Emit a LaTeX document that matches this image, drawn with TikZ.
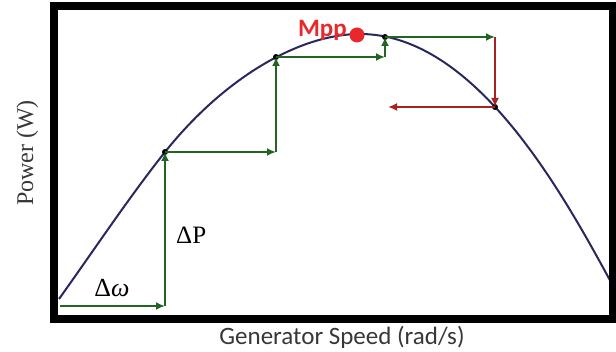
\documentclass[tikz,border=0pt]{standalone}
\usepackage{fontspec}
\setmainfont{Liberation Serif}
\newfontfamily\calfont{Carlito}
\usetikzlibrary{arrows.meta}
\definecolor{curveblue}{RGB}{40,40,95}
\definecolor{stepgreen}{RGB}{35,100,35}
\definecolor{stepred}{RGB}{165,35,35}
\definecolor{mppred}{RGB}{232,40,45}
\definecolor{labelgray}{RGB}{55,55,55}
\begin{document}
\begin{tikzpicture}[x=1pt,y=-1pt,
        upstep/.style={stepgreen,line width=2.3pt,-{Latex[length=9pt,width=8pt]}},
        downstep/.style={stepred,line width=2.3pt,-{Latex[length=9pt,width=8pt]}},
        dot/.style={circle,fill=black,inner sep=0pt,minimum size=6pt}]
            \useasboundingbox (0,0) rectangle (616,352);

            % power curve
            \draw[curveblue,line width=2pt] (59,299) .. controls (94,250) and (130,196) .. (165,152)
                .. controls (225,77) and (300,34) .. (360,34)
                .. controls (475,34) and (562,192) .. (612,284);

            % frame
            \draw[black,line width=8pt] (54,6.5) rectangle (613,319);

            \coordinate (w0) at (60,306);
            \node[dot] (p1) at (165,152) {};
            \node[dot] (p2) at (276,57) {};
            \node[dot] (p3) at (385,37) {};
            \node[dot] (p4) at (495,107) {};
            \coordinate (c1) at (165,306);
            \coordinate (c2) at (276,152);
            \coordinate (c3) at (385,57);
            \coordinate (c4) at (495,37);
            \coordinate (back) at (388,107);

            \draw[upstep] (w0) -- (c1);
            \draw[upstep] (c1) -- (p1.center);
            \draw[upstep] (p1.center) -- (c2);
            \draw[upstep] (c2) -- (p2.center);
            \draw[upstep] (p2.center) -- (c3);
            \draw[upstep] (c3) -- (p3.center);
            \draw[upstep] (p3.center) -- (c4);
            \draw[downstep] (c4) -- (p4.center);
            \draw[downstep] (p4.center) -- (back);

            \node[circle,fill=mppred,inner sep=0pt,minimum size=15pt] (mpp) at (357,35) {};
            \node[anchor=base east,inner sep=0pt,text=mppred,font=\calfont\bfseries\fontsize{25}{25}\selectfont] (mpplabel) at (347,37) {Mpp};

            \node[anchor=base,inner sep=0pt,font=\fontsize{26}{26}\selectfont] (dw) at (112,297) {Δ\textit{ω}};
            \node[anchor=base west,inner sep=0pt,font=\fontsize{25}{25}\selectfont] (dp) at (176,244) {ΔP};

            \node[anchor=base,rotate=90,inner sep=0pt,text=labelgray,font=\fontsize{24}{24}\selectfont] (ylabel) at (33,153) {Power (W)};
            \node[anchor=base,inner sep=0pt,text=labelgray,font=\calfont\fontsize{25}{25}\selectfont] (xlabel) at (342,345) {Generator Speed (rad/s)};

        \end{tikzpicture}
\end{document}
